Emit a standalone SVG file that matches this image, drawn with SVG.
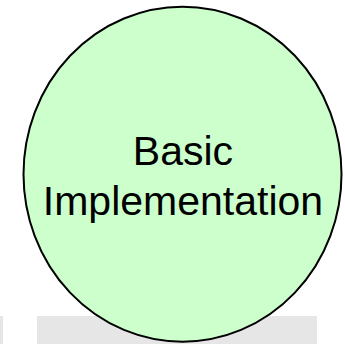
<svg xmlns="http://www.w3.org/2000/svg" width="345" height="344" viewBox="0 0 345 344">
<style>
.bg{fill:#e6e6e6;stroke:none}
.node{fill:#ccffcc;stroke:#000;stroke-width:2}
.lbl{font-family:"Liberation Sans",Arial,sans-serif;font-size:41px;fill:#000;text-anchor:middle}
</style>
<rect width="345" height="344" fill="#fff"/>
<g id="background">
<rect class="bg" x="0" y="316" width="3" height="28"/>
<rect class="bg" x="37" y="316" width="280" height="28"/>
</g>
<g id="connectors"></g>
<g id="node-basic-implementation">
<ellipse class="node" cx="182.5" cy="174.2" rx="159" ry="167.5"/>
<text class="lbl" x="183" y="165">Basic</text>
<text class="lbl" x="183" y="215">Implementation</text>
</g>
</svg>
